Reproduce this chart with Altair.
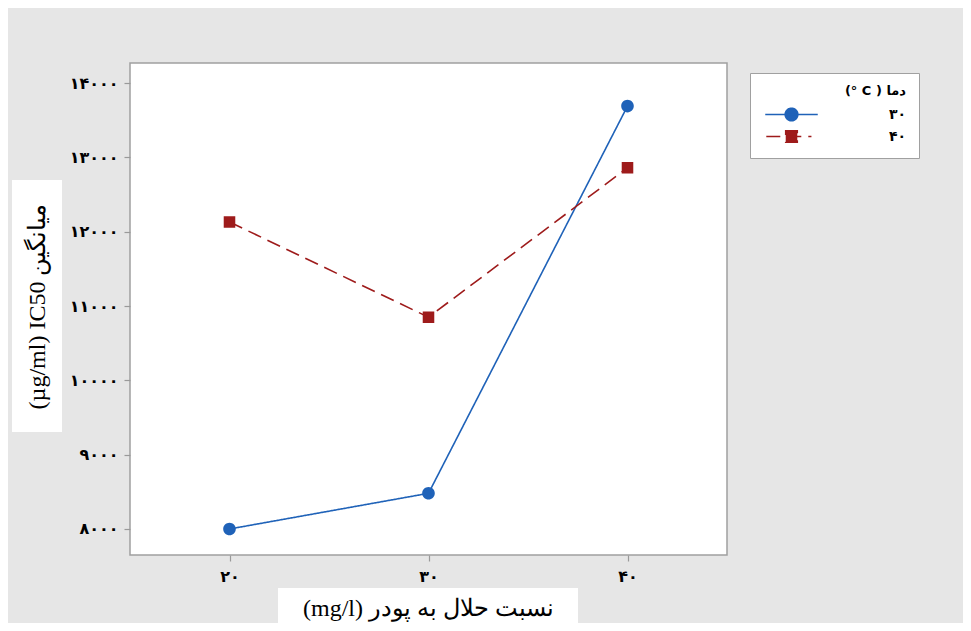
import altair as alt
import pandas as pd

# ---- data ----
x_values = [20, 30, 40]
series_names = ['۳۰', '۴۰']
ic50_30 = [8000, 8480, 13690]
ic50_40 = [12130, 10850, 12860]
y_ticks = [8000, 9000, 10000, 11000, 12000, 13000, 14000]
y_tick_labels = ['۸۰۰۰', '۹۰۰۰', '۱۰۰۰۰', '۱۱۰۰۰', '۱۲۰۰۰', '۱۳۰۰۰', '۱۴۰۰۰']
x_tick_labels = ['۲۰', '۳۰', '۴۰']
colors = ['#1f62b8', '#9e1b1b']

rows = []
for name, vals in zip(series_names, [ic50_30, ic50_40]):
    for xv, v in zip(x_values, vals):
        rows.append({'ratio': xv, 'ic50': v, 'temp': name})
df = pd.DataFrame(rows)


def label_expr(ticks, labels):
    expr = "''"
    for t, l in reversed(list(zip(ticks, labels))):
        expr = f"datum.value == {t} ? '{l}' : ({expr})"
    return expr


TICK_FONT = 'DejaVu Sans'
TITLE_FONT = 'Liberation Serif'

x_axis = alt.Axis(
    values=x_values, labelExpr=label_expr(x_values, x_tick_labels),
    title='(mg/l) نسبت حلال به پودر', grid=False, domain=False,
    tickColor='#9a9a9a', tickSize=6, tickWidth=1.2,
    labelFont=TICK_FONT, labelFontSize=16, labelFontWeight='bold', labelColor='black',
    labelPadding=7,
    titleFont=TITLE_FONT, titleFontSize=24, titleFontWeight='normal', titleColor='black',
    titleX=298, titleY=53, titleBaseline='middle', titleAnchor='middle', zindex=1,
)
y_axis = alt.Axis(
    values=y_ticks, labelExpr=label_expr(y_ticks, y_tick_labels),
    title='(µg/ml) IC50 میانگین', grid=False, domain=False,
    tickColor='#9a9a9a', tickSize=6, tickWidth=1.2,
    labelFont=TICK_FONT, labelFontSize=16, labelFontWeight='bold', labelColor='black',
    labelPadding=6,
    titleFont=TITLE_FONT, titleFontSize=24, titleFontWeight='normal', titleColor='black',
    titleX=-93, titleY=243, titleBaseline='middle', titleAnchor='middle', titleAngle=270,
    zindex=1,
)

x_enc = alt.X('ratio:Q', scale=alt.Scale(domain=[15, 45], nice=False, zero=False), axis=x_axis)
y_enc = alt.Y('ic50:Q', scale=alt.Scale(domain=[7650, 14270], nice=False, zero=False), axis=y_axis)
color_scale = alt.Scale(domain=series_names, range=colors)

# marker paths with a horizontal line (only stroked in the legend)
circle_path = 'M-2.5,0H2.5M-0.6,0A0.6,0.6 0 1,1 0.6,0A0.6,0.6 0 1,1 -0.6,0Z'
square_path = 'M-2.4,0H1.9M-0.55,-0.55H0.55V0.55H-0.55Z'

legend = alt.Legend(
    title='(° C ) دما', orient='none', legendX=620, legendY=10,
    padding=12, fillColor='white', strokeColor='#a0a0a0',
    titleFont=TICK_FONT, titleFontSize=13, titleFontWeight='bold', titleColor='black',
    titleAnchor='end', titlePadding=5,
    labelFont=TICK_FONT, labelFontSize=14, labelFontWeight='bold', labelColor='black',
    labelOffset=86, symbolOffset=18,
    symbolSize=441, symbolStrokeWidth=1.6, symbolOpacity=1,
)

base = alt.Chart(df)

lines = base.mark_line(strokeWidth=1.6).encode(
    x=x_enc, y=y_enc,
    color=alt.Color('temp:N', scale=color_scale, legend=legend),
    strokeDash=alt.StrokeDash('temp:N', scale=alt.Scale(domain=series_names, range=[[1, 0], [14, 7]]), legend=None),
)
points = base.mark_point(filled=True, opacity=1, strokeWidth=0, size=441).encode(
    x=x_enc, y=y_enc,
    color=alt.Color('temp:N', scale=color_scale, legend=legend),
    stroke=alt.Stroke('temp:N', scale=alt.Scale(domain=series_names, range=colors), legend=legend),
    shape=alt.Shape('temp:N', scale=alt.Scale(domain=series_names, range=[circle_path, square_path]), legend=legend),
)

box_data = alt.Data(values=[{}])
ybox = alt.Chart(box_data).mark_rect(color='white').encode(
    x=alt.value(-118), x2=alt.value(-68), y=alt.value(117), y2=alt.value(369))
xbox = alt.Chart(box_data).mark_rect(color='white').encode(
    x=alt.value(148), x2=alt.value(448), y=alt.value(525), y2=alt.value(568))

chart = alt.layer(ybox, xbox, lines, points).properties(
    width=597, height=492,
    autosize=alt.AutoSizeParams(type='none'),
    padding={'left': 122, 'top': 55, 'right': 236, 'bottom': 68},
    background='#e6e6e6',
).configure_view(fill='white', stroke='#a0a0a0', strokeWidth=1.5
).configure_legend(rowPadding=0)

chart.save('out.html', embed_options={'renderer': 'svg', 'actions': False})
